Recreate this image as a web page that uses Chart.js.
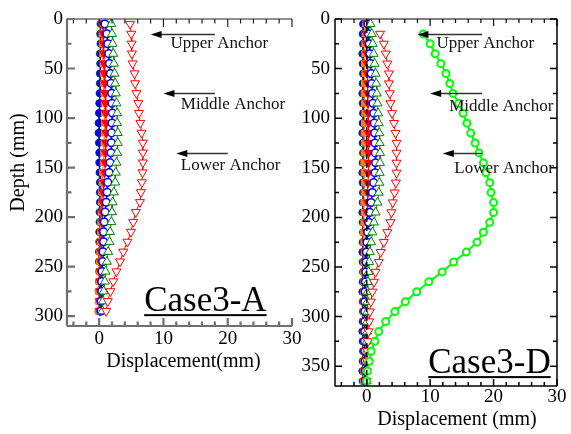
<!DOCTYPE html>
<html>
<head>
<meta charset="utf-8">
<script src="https://cdn.jsdelivr.net/npm/chart.js@4.4.1/dist/chart.umd.min.js"></script>
<style>
  html, body { margin: 0; padding: 0; background: #fff; }
  body { width: 571px; height: 434px; position: relative; overflow: hidden; }
  .panel { position: absolute; top: 0; }
  #panelA { left: 0; }
  #panelD { left: 271px; }
</style>
</head>
<body>
<div class="panel" id="panelA"><canvas id="caseA" width="310" height="434"></canvas></div>
<div class="panel" id="panelD"><canvas id="caseD" width="300" height="434"></canvas></div>
<script>
// tick labels
const xTicks = [0, 10, 20, 30];
const yTicksA = [0, 50, 100, 150, 200, 250, 300];
const yTicksD = [0, 50, 100, 150, 200, 250, 300, 350];

// anchor notes
const anchorNames = ['Upper Anchor', 'Middle Anchor', 'Lower Anchor'];
const anchorDepths = [15, 75, 135];

// Case3-A: measuring depths (mm) and displacements (mm)
const depthA = [5, 15, 25, 35, 45, 55, 65, 75, 85, 95,
  105, 115, 125, 135, 145, 155, 165, 175, 185, 195,
  205, 215, 225, 235, 245, 255, 265, 275, 285, 295];
const greenFilledA = [0.2, 0.15, 0.2, 0.1, 0.15, 0.1, 0.1, 0.05, 0.0, -0.05,
  -0.1, -0.1, -0.05, 0.0, 0.0, 0.05, 0.1, 0.1, 0.1, 0.05,
  0.05, 0.0, 0.0, -0.05, -0.05, 0.0, -0.05, -0.1, -0.05, -0.1];
const blueFilledA = [0.3, 0.25, 0.3, 0.2, 0.25, 0.2, 0.2, 0.15, 0.1, 0.05,
  0.0, 0.0, 0.05, 0.1, 0.1, 0.15, 0.2, 0.2, 0.2, 0.15,
  0.15, 0.1, 0.1, 0.05, 0.05, 0.1, 0.05, 0.0, 0.05, 0.0];
const orangeA = [0.4, 0.45, 0.5, 0.55, 0.6, 0.65, 0.7, 0.75, 0.8, 0.85,
  0.85, 0.8, 0.75, 0.7, 0.65, 0.55, 0.45, 0.4, 0.35, 0.3,
  0.25, 0.2, 0.15, 0.1, 0.05, 0.0, -0.05, -0.1, -0.1, -0.15];
const redFilledA = [0.6, 0.65, 0.7, 0.75, 0.8, 0.85, 0.9, 0.95, 1.0, 1.05,
  1.1, 1.1, 1.05, 1.0, 0.95, 0.85, 0.75, 0.65, 0.55, 0.5,
  0.45, 0.4, 0.35, 0.3, 0.25, 0.2, 0.2, 0.15, 0.1, 0.1];
const blueOpenA = [0.9, 1.2, 1.35, 1.5, 1.6, 1.75, 1.85, 1.95, 2.0, 2.05,
  2.0, 1.95, 1.9, 1.85, 1.7, 1.55, 1.35, 1.25, 1.1, 0.95,
  0.8, 0.7, 0.7, 0.6, 0.55, 0.45, 0.4, 0.4, 0.3, 0.3];
const greenOpenA = [1.9, 2.0, 2.1, 2.2, 2.3, 2.4, 2.5, 2.6, 2.7, 2.8,
  2.8, 2.9, 2.9, 2.8, 2.7, 2.6, 2.5, 2.3, 2.1, 2.0,
  1.9, 1.7, 1.6, 1.4, 1.2, 1.0, 0.9, 0.7, 0.6, 0.5];
const redOpenA = [4.8, 5.0, 5.05, 5.1, 5.2, 5.5, 5.6, 5.8, 6.1, 6.2,
  6.4, 6.6, 6.8, 6.8, 6.8, 6.75, 6.65, 6.5, 6.35, 5.7,
  5.3, 4.95, 4.4, 3.75, 3.25, 2.7, 2.2, 1.75, 1.35, 1.1];

// Case3-D
const depthD = [5, 15, 25, 35, 45, 55, 65, 75, 85, 95,
  105, 115, 125, 135, 145, 155, 165, 175, 185, 195,
  205, 215, 225, 235, 245, 255, 265, 275, 285, 295,
  305, 315, 325, 335, 345, 355, 365];
const depthLateD = [15, 25, 35, 45, 55, 65, 75, 85, 95,
  105, 115, 125, 135, 145, 155, 165, 175, 185, 195,
  205, 215, 225, 235, 245, 255, 265, 275, 285, 295,
  305, 315, 325, 335, 345, 355, 365];
const greenFilledD = [-0.6, -0.65, -0.6, -0.7, -0.65, -0.6, -0.65, -0.7, -0.65, -0.6,
  -0.65, -0.7, -0.65, -0.6, -0.65, -0.7, -0.65, -0.6, -0.65, -0.7,
  -0.65, -0.6, -0.65, -0.7, -0.65, -0.6, -0.65, -0.7, -0.65, -0.6,
  -0.65, -0.7, -0.65, -0.6, -0.65, -0.7, -0.65];
const blueFilledD = [-0.5, -0.55, -0.5, -0.6, -0.55, -0.5, -0.55, -0.6, -0.55, -0.5,
  -0.55, -0.6, -0.55, -0.5, -0.55, -0.6, -0.55, -0.5, -0.55, -0.6,
  -0.55, -0.5, -0.55, -0.6, -0.55, -0.5, -0.55, -0.6, -0.55, -0.5,
  -0.55, -0.6, -0.55, -0.5, -0.55, -0.6, -0.55];
const orangeD = [-0.2, -0.25, -0.3, -0.3, -0.35, -0.3, -0.35, -0.4, -0.35, -0.3,
  -0.35, -0.4, -0.35, -0.4, -0.45, -0.4, -0.35, -0.4, -0.45, -0.4,
  -0.45, -0.5, -0.45, -0.4, -0.45, -0.5, -0.45, -0.5, -0.55, -0.5,
  -0.45, -0.5, -0.5, -0.45, -0.5, -0.45, -0.5];
const redFilledD = [0.0, 0.0, 0.0, 0.05, 0.1, 0.1, 0.15, 0.2, 0.2, 0.25,
  0.3, 0.3, 0.3, 0.3, 0.3, 0.25, 0.2, 0.2, 0.15, 0.1,
  0.05, 0.0, -0.1, -0.2, -0.25, -0.3, -0.3, -0.35, -0.35, -0.4,
  -0.4, -0.4, -0.4, -0.35, -0.3, -0.3, -0.3];
const blueOpenD = [0.2, 0.3, 0.4, 0.5, 0.6, 0.7, 0.8, 0.9, 1.0, 1.1,
  1.2, 1.25, 1.3, 1.35, 1.4, 1.3, 1.1, 0.9, 0.7, 0.5,
  0.3, 0.15, 0.05, -0.05, -0.1, -0.15, -0.2, -0.25, -0.3, -0.3,
  -0.3, -0.3, -0.35, -0.3, -0.25, -0.2, -0.2];
const greenOpenD = [0.6, 0.8, 0.95, 1.1, 1.25, 1.4, 1.5, 1.6, 1.7, 1.8,
  1.9, 2.0, 2.05, 2.1, 2.1, 2.05, 2.0, 1.9, 1.7, 1.4,
  1.15, 0.9, 0.7, 0.5, 0.4, 0.3, 0.2, 0.15, 0.1, 0.1,
  0.05, 0.05, 0.0, 0.0, 0.0, 0.0, 0.0];
const redOpenD = [2.1, 2.7, 3.0, 3.25, 3.5, 3.5, 3.65, 3.75, 4.0, 4.3,
  4.55, 4.7, 4.7, 4.7, 4.7, 4.6, 4.4, 4.1, 3.9, 3.75,
  3.25, 2.7, 2.2, 1.9, 1.4, 1.15, 0.9, 0.65, 0.5, 0.4,
  0.3, 0.2, 0.1, 0.05, 0.0, 0.0];
const limeD = [8.9, 10.0, 10.8, 11.7, 12.5, 13.1, 13.6, 14.5, 15.2, 15.8,
  16.4, 17.1, 17.7, 18.4, 18.8, 19.4, 19.6, 20.0, 20.0, 19.4,
  18.4, 17.4, 15.7, 13.7, 11.9, 9.8, 7.9, 6.1, 4.45, 3.0,
  1.9, 1.3, 0.7, 0.4, 0.1, 0.0];
const zeroLineX = [0, 0];
const zeroLineDepth = [0, 370];

Chart.defaults.font.family = '"Liberation Serif", "Times New Roman", serif';
Chart.defaults.color = '#000';

const pts = (xs, ys) => xs.map((v, i) => ({ x: v, y: ys[i] }));

// marker styles for each load step
const look = {
  greenFilled: { borderColor: '#008000', backgroundColor: '#008000', pointStyle: 'circle', pointRadius: 3.5, borderWidth: 1 },
  blueFilled: { borderColor: '#0000ff', backgroundColor: '#0000ff', pointStyle: 'circle', pointRadius: 3.5, borderWidth: 1 },
  orange: { borderColor: '#ff7f00', backgroundColor: '#ff7f00', pointStyle: 'rect', pointRadius: 4.2, borderWidth: 1 },
  redFilled: { borderColor: '#ff0000', backgroundColor: '#ff0000', pointStyle: 'triangle', rotation: 180, pointRadius: 5, borderWidth: 1 },
  blueOpen: { borderColor: '#0000ff', backgroundColor: '#ffffff', pointStyle: 'circle', pointRadius: 3.8, borderWidth: 1.5 },
  greenOpen: { borderColor: '#008000', backgroundColor: '#ffffff', pointStyle: 'triangle', pointRadius: 5.2, borderWidth: 1 },
  redOpen: { borderColor: '#ff0000', backgroundColor: '#ffffff', pointStyle: 'triangle', rotation: 180, pointRadius: 5.2, borderWidth: 1 },
  lime: { borderColor: '#00ff00', backgroundColor: '#ffffff', pointStyle: 'circle', pointRadius: 3.5, borderWidth: 2 },
  dashed: { borderColor: '#000000', pointRadius: 0, borderWidth: 1.5, borderDash: [5, 4] }
};

// bottom-to-top list; first item is drawn first
function buildSets(list) {
  return list.map(([name, xs, ys], i) => Object.assign(
    { label: name, data: pts(xs, ys), showLine: true, order: list.length - i },
    look[name]));
}

// axis frame with inward ticks
const axisFrame = {
  id: 'axisFrame',
  afterDatasetsDraw(chart, _args, o) {
    const { ctx, chartArea: a, scales: { x, y } } = chart;
    ctx.save();
    for (const name of ['top', 'right', 'bottom', 'left']) {
      const s = o.sides[name];
      if (!s) continue;
      ctx.strokeStyle = s.color;
      ctx.lineWidth = s.width;
      ctx.beginPath();
      if (name === 'top' || name === 'bottom') {
        const py = name === 'top' ? a.top : a.bottom;
        const dir = name === 'top' ? 1 : -1;
        ctx.moveTo(a.left, py);
        ctx.lineTo(a.right, py);
        for (let v = Math.ceil(x.min / o.xMinor) * o.xMinor; v <= x.max; v += o.xMinor) {
          const px = x.getPixelForValue(v);
          const len = v % o.xMajor === 0 ? o.majorLen : o.minorLen;
          ctx.moveTo(px, py);
          ctx.lineTo(px, py + dir * len);
        }
      } else {
        const px = name === 'left' ? a.left : a.right;
        const dir = name === 'left' ? 1 : -1;
        ctx.moveTo(px, a.top);
        ctx.lineTo(px, a.bottom);
        for (let v = 0; v <= y.max; v += o.yMinor) {
          const py = y.getPixelForValue(v);
          const len = v % o.yMajor === 0 ? o.majorLen : o.minorLen;
          ctx.moveTo(px, py);
          ctx.lineTo(px + dir * len, py);
        }
      }
      ctx.stroke();
    }
    ctx.restore();
  }
};

// anchor arrows, their labels, the case name and the axis titles
const anchorNotes = {
  id: 'anchorNotes',
  afterDraw(chart, _args, o) {
    const { ctx, chartArea: a, scales: { x, y } } = chart;
    ctx.save();
    anchorNames.forEach((name, i) => {
      const py = Math.round(y.getPixelForValue(anchorDepths[i])) + 0.5;
      const tip = x.getPixelForValue(o.tips[i]);
      const tail = x.getPixelForValue(o.tails[i]);
      ctx.strokeStyle = '#333';
      ctx.lineWidth = 1.3;
      ctx.beginPath();
      ctx.moveTo(tail, py);
      ctx.lineTo(tip + 8, py);
      ctx.stroke();
      ctx.fillStyle = '#000';
      ctx.beginPath();
      ctx.moveTo(tip, py);
      ctx.lineTo(tip + 11, py - 3.5);
      ctx.lineTo(tip + 11, py + 3.5);
      ctx.closePath();
      ctx.fill();
      ctx.fillStyle = '#111';
      ctx.font = '17px "Liberation Serif"';
      ctx.textAlign = 'left';
      ctx.textBaseline = 'middle';
      ctx.fillText(name, x.getPixelForValue(o.labelX[i]), py + o.labelDy[i]);
    });

    ctx.fillStyle = '#000';
    ctx.font = '35px "Liberation Serif"';
    ctx.textBaseline = 'alphabetic';
    const cx = x.getPixelForValue(o.caseX);
    const cy = y.getPixelForValue(o.caseDepth);
    ctx.fillText(o.caseText, cx, cy);
    ctx.fillRect(cx, cy + 3, ctx.measureText(o.caseText).width, 2);

    ctx.font = '20px "Liberation Serif"';
    ctx.textAlign = 'center';
    ctx.textBaseline = 'middle';
    ctx.fillText(o.xTitle, (a.left + a.right) / 2 + o.xTitleDx, a.bottom + o.xTitleDy);
    if (o.yTitle) {
      ctx.translate(o.yTitleX, (a.top + a.bottom) / 2 + o.yTitleDy);
      ctx.rotate(-Math.PI / 2);
      ctx.fillText(o.yTitle, 0, 0);
    }
    ctx.restore();
  }
};

function makeChart(id, p) {
  return new Chart(document.getElementById(id), {
    type: 'scatter',
    data: { datasets: p.datasets },
    options: {
      responsive: false,
      animation: false,
      events: [],
      layout: { padding: p.padding },
      elements: { line: { tension: 0 } },
      scales: {
        x: {
          type: 'linear', min: -5, max: 30,
          afterBuildTicks: s => { s.ticks = xTicks.map(v => ({ value: v })); },
          afterFit: s => { s.height = p.xHeight; },
          grid: { display: false, drawTicks: false },
          border: { display: false },
          ticks: { padding: p.xPad, font: { size: 19 }, maxRotation: 0, autoSkip: false }
        },
        y: {
          type: 'linear', reverse: true, min: 0, max: p.yMax,
          afterBuildTicks: s => { s.ticks = p.yTicks.map(v => ({ value: v })); },
          afterFit: s => { s.width = p.yWidth; },
          grid: { display: false, drawTicks: false },
          border: { display: false },
          ticks: { padding: p.yPad, font: { size: 19 }, autoSkip: false }
        }
      },
      plugins: {
        legend: { display: false },
        tooltip: { enabled: false },
        axisFrame: p.frame,
        anchorNotes: p.notes
      }
    },
    plugins: [axisFrame, anchorNotes]
  });
}

makeChart('caseA', {
  datasets: buildSets([
    ['greenFilled', greenFilledA, depthA],
    ['blueFilled', blueFilledA, depthA],
    ['orange', orangeA, depthA],
    ['redFilled', redFilledA, depthA],
    ['blueOpen', blueOpenA, depthA],
    ['greenOpen', greenOpenA, depthA],
    ['redOpen', redOpenA, depthA]
  ]),
  padding: { top: 19, right: 18, bottom: 60, left: 0 },
  xHeight: 48, xPad: 2, yWidth: 67, yPad: 4, yMax: 310,
  yTicks: yTicksA,
  frame: {
    sides: {
      left: { color: '#6f6f6f', width: 2.2 },
      bottom: { color: '#6f6f6f', width: 2.2 },
      top: { color: '#222', width: 1.2 }
    },
    xMinor: 2, xMajor: 10, yMinor: 25, yMajor: 50, majorLen: 8, minorLen: 4.5
  },
  notes: {
    tips: [8, 10, 12], tails: [18, 18, 20],
    labelX: [11.1, 12.7, 12.7], labelDy: [9, 11, 12],
    caseText: 'Case3-A', caseX: 7.0, caseDepth: 295,
    xTitle: 'Displacement(mm)', xTitleDx: 4, xTitleDy: 36,
    yTitle: 'Depth (mm)', yTitleX: 19, yTitleDy: -10
  }
});

makeChart('caseD', {
  datasets: buildSets([
    ['greenFilled', greenFilledD, depthD],
    ['blueFilled', blueFilledD, depthD],
    ['orange', orangeD, depthD],
    ['redFilled', redFilledD, depthD],
    ['blueOpen', blueOpenD, depthD],
    ['greenOpen', greenOpenD, depthD],
    ['redOpen', redOpenD, depthLateD],
    ['lime', limeD, depthLateD],
    ['dashed', zeroLineX, zeroLineDepth]
  ]),
  padding: { top: 19, right: 14, bottom: 2, left: 0 },
  xHeight: 46, xPad: 0, yWidth: 64, yPad: 5, yMax: 370,
  yTicks: yTicksD,
  frame: {
    sides: {
      left: { color: '#000', width: 1.5 },
      bottom: { color: '#000', width: 1.5 },
      top: { color: '#000', width: 1.2 },
      right: { color: '#000', width: 1.5 }
    },
    xMinor: 2, xMajor: 10, yMinor: 25, yMajor: 50, majorLen: 7, minorLen: 4
  },
  notes: {
    tips: [8, 10, 12], tails: [18.2, 18.2, 18.2],
    labelX: [11.0, 13.0, 13.8], labelDy: [9, 13, 15],
    caseText: 'Case3-D', caseX: 9.7, caseDepth: 357,
    xTitle: 'Displacement (mm)', xTitleDx: 11, xTitleDy: 34,
    yTitle: null
  }
});
</script>
</body>
</html>
